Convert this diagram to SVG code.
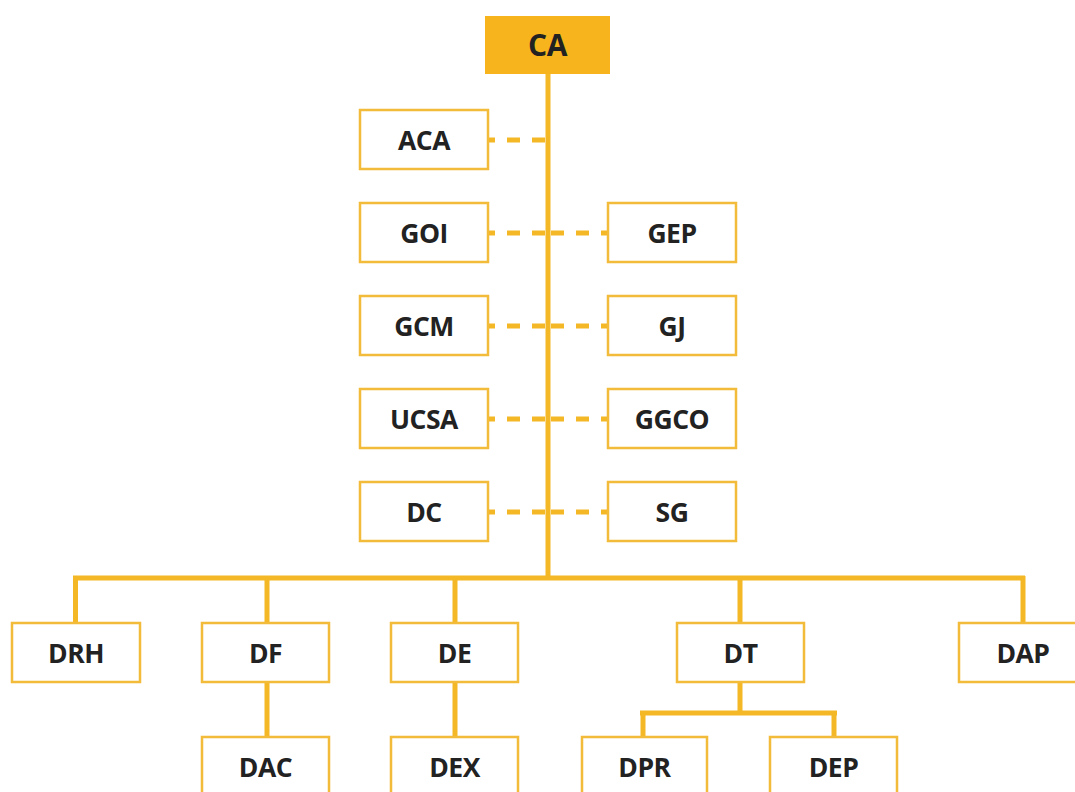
<svg xmlns="http://www.w3.org/2000/svg" width="1075" height="792" viewBox="0 0 1075 792">
<style>
.box{fill:#fff;stroke:#F2BC3A;stroke-width:2.5}
.ca{fill:#F8B41C}
.t{font-family:"Open Sans","Noto Sans",sans-serif;font-weight:700;font-size:26.5px;fill:#222;text-anchor:middle;letter-spacing:-0.5px}
.line{stroke:#F4B726;stroke-width:5;fill:none}
.dash{stroke:#F4B726;stroke-width:5;fill:none;stroke-dasharray:13 12}
</style>
<rect width="1075" height="792" fill="#fff"/>
<g id="connectors">
<path class="line" d="M548 74V578M73 578H1025M75.5 576V623M267 576V623M455 576V623M740 576V623M1023 576V623"/>
<path class="line" d="M267 682V737M455 682V737M740 682V713M640 713H837M643 711V737M834 711V737"/>
<path class="dash" d="M545 140H488M545 233H488M545 326H488M545 419H488M545 512H488"/>
<path class="dash" d="M551 233H608M551 326H608M551 419H608M551 512H608"/>
</g>
<g id="CA"><rect class="ca" x="485" y="16" width="125" height="58"/><text class="t" x="547.5" y="55.5" style="font-size:30px">CA</text></g>
<g id="ACA"><rect class="box" x="360" y="110" width="128" height="59"/><text class="t" x="424" y="149.5">ACA</text></g>
<g id="GOI"><rect class="box" x="360" y="203" width="128" height="59"/><text class="t" x="424" y="242.5">GOI</text></g>
<g id="GEP"><rect class="box" x="608" y="203" width="128" height="59"/><text class="t" x="672" y="242.5">GEP</text></g>
<g id="GCM"><rect class="box" x="360" y="296" width="128" height="59"/><text class="t" x="424" y="335.5">GCM</text></g>
<g id="GJ"><rect class="box" x="608" y="296" width="128" height="59"/><text class="t" x="672" y="335.5">GJ</text></g>
<g id="UCSA"><rect class="box" x="360" y="389" width="128" height="59"/><text class="t" x="424" y="428.5">UCSA</text></g>
<g id="GGCO"><rect class="box" x="608" y="389" width="128" height="59"/><text class="t" x="672" y="428.5">GGCO</text></g>
<g id="DC"><rect class="box" x="360" y="482" width="128" height="59"/><text class="t" x="424" y="521.5">DC</text></g>
<g id="SG"><rect class="box" x="608" y="482" width="128" height="59"/><text class="t" x="672" y="521.5">SG</text></g>
<g id="DRH"><rect class="box" x="12" y="623" width="128" height="59"/><text class="t" x="76" y="662.5">DRH</text></g>
<g id="DF"><rect class="box" x="202" y="623" width="127" height="59"/><text class="t" x="265.5" y="662.5">DF</text></g>
<g id="DE"><rect class="box" x="391" y="623" width="127" height="59"/><text class="t" x="454.5" y="662.5">DE</text></g>
<g id="DT"><rect class="box" x="677" y="623" width="127" height="59"/><text class="t" x="740.5" y="662.5">DT</text></g>
<g id="DAP"><rect class="box" x="959" y="623" width="128" height="59"/><text class="t" x="1023" y="662.5">DAP</text></g>
<g id="DAC"><rect class="box" x="202" y="737" width="127" height="59"/><text class="t" x="265.5" y="776.5">DAC</text></g>
<g id="DEX"><rect class="box" x="391" y="737" width="127" height="59"/><text class="t" x="454.5" y="776.5">DEX</text></g>
<g id="DPR"><rect class="box" x="582" y="737" width="125" height="59"/><text class="t" x="644.5" y="776.5">DPR</text></g>
<g id="DEP"><rect class="box" x="770" y="737" width="127" height="59"/><text class="t" x="833.5" y="776.5">DEP</text></g>
</svg>
